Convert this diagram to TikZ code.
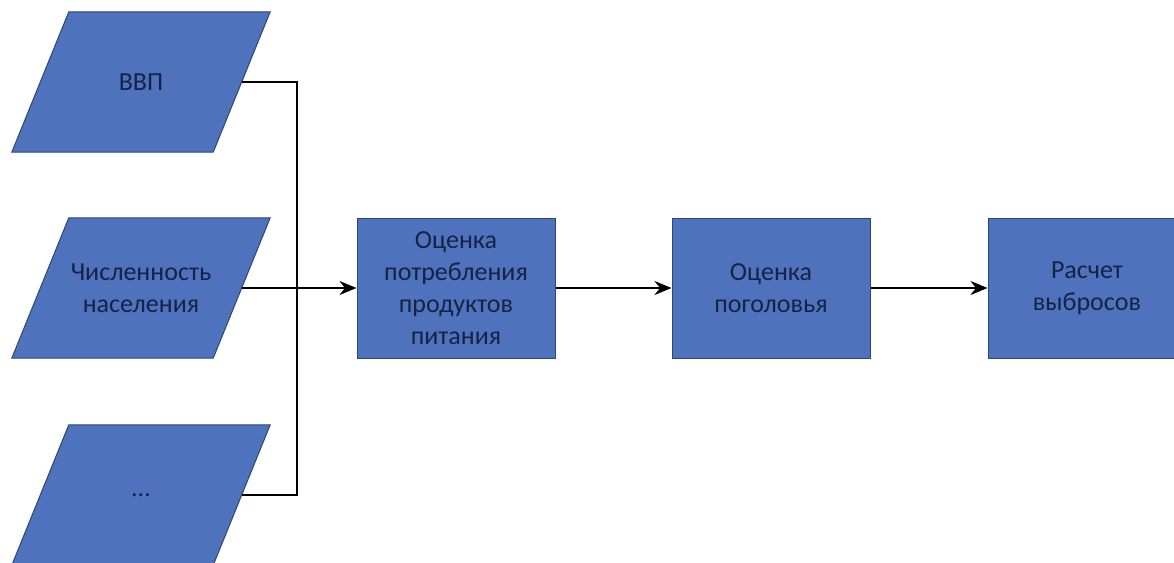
\documentclass[tikz,border=0pt]{standalone}
\usepackage{fontspec}
\setmainfont{Carlito}
\usetikzlibrary{calc,arrows.meta,backgrounds}
\definecolor{boxfill}{RGB}{79,114,188}
\definecolor{boxline}{RGB}{44,70,120}
\definecolor{boxtext}{RGB}{22,34,70}
\tikzset{
  base/.style={text=boxtext, font=\fontsize{26pt}{32pt}\selectfont, align=center, inner sep=0pt},
  para/.style={base, rectangle, minimum width=258pt, minimum height=140pt},
  parashape/.style={fill=boxfill, draw=boxline, line width=1pt},
  proc/.style={base, rectangle, fill=boxfill, draw=boxline, line width=1pt,
    minimum width=198pt, minimum height=140pt},
  conn/.style={line width=2.2pt, black},
  arr/.style={conn, -{Stealth[length=17pt,width=14pt]}}
}
\begin{document}
\begin{tikzpicture}[x=1pt,y=-1pt]
\useasboundingbox (0,0) rectangle (1174,562);
\clip (0,0) rectangle (1174,562);
\node[para] (gdp) at (141,82) {ВВП};
\node[para] (pop) at (141,288) {Численность\\населения};
\node[para] (etc) at (141,495) {...};
\begin{scope}[on background layer]
\fill[white] (0,0) rectangle (1174,562);
\foreach \n in {gdp,pop,etc}{
  \draw[parashape] ($(\n.north west)+(57,0)$) -- (\n.north east)
    -- ($(\n.south east)-(57,0)$) -- (\n.south west) -- cycle;
  \coordinate (\n-e) at ($(\n.east)-(28.5,0)$);
}
\end{scope}
\node[proc] (food) at (456,288) {Оценка\\потребления\\продуктов\\питания};
\node[proc] (herd) at (771,288) {Оценка\\поголовья};
\node[proc] (emis) at (1087,288) {Расчет\\выбросов};
\coordinate (bus) at (297,288);
\draw[conn] (gdp-e) -| (bus) |- (etc-e);
\draw[arr] (pop-e) -- (food.west);
\draw[arr] (food.east) -- (herd.west);
\draw[arr] (herd.east) -- (emis.west);
\end{tikzpicture}
\end{document}
